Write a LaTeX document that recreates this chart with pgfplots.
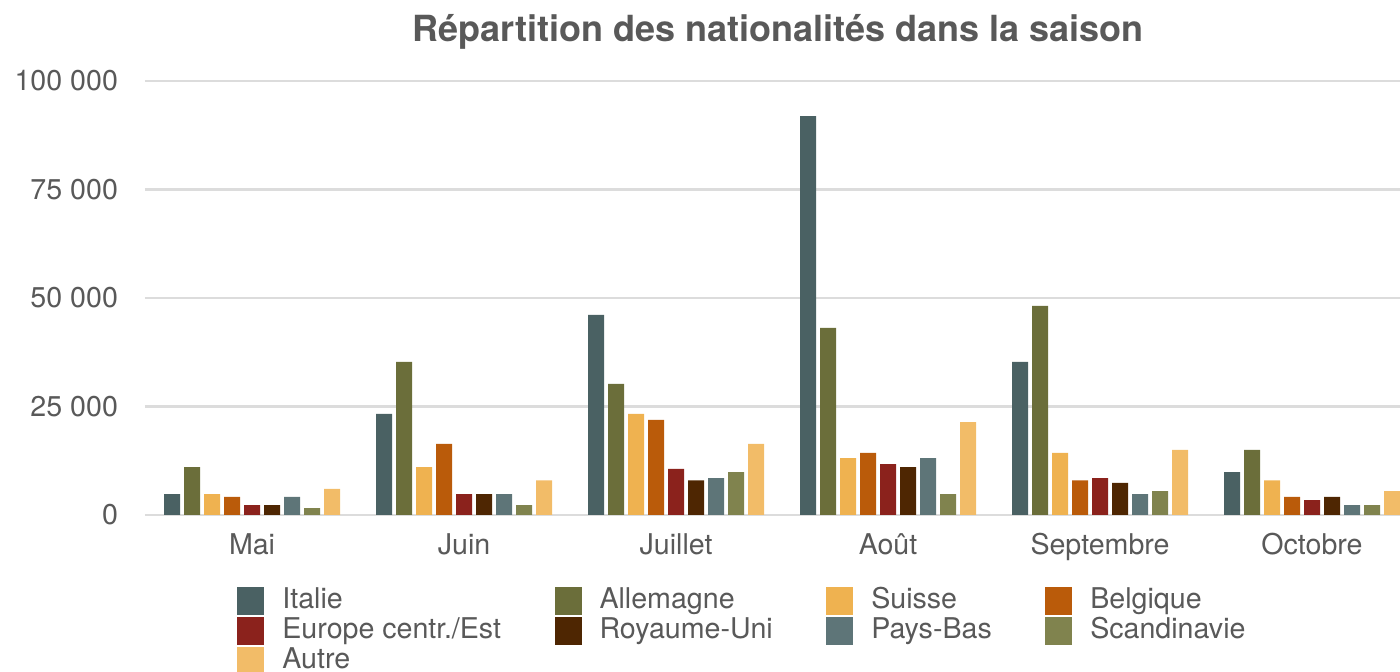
\documentclass[border=0pt]{standalone}
\usepackage{fontspec}
\setmainfont{TeX Gyre Heros}
\usepackage{pgfplots}
\usepackage{pgfplotstable}
\pgfplotsset{compat=1.18}

\definecolor{cItalie}{HTML}{4A6163}
\definecolor{cAllemagne}{HTML}{6B6E3A}
\definecolor{cSuisse}{HTML}{EFB250}
\definecolor{cBelgique}{HTML}{BA5B0A}
\definecolor{cEurope}{HTML}{8B221C}
\definecolor{cRU}{HTML}{4E2602}
\definecolor{cPB}{HTML}{5E7578}
\definecolor{cScand}{HTML}{80834E}
\definecolor{cAutre}{HTML}{F2BC68}
\definecolor{txt}{HTML}{595959}
\definecolor{grille}{HTML}{DCDCDC}

% mois: 0=Mai ... 5=Octobre
\pgfplotstableread{
x Italie Allemagne Suisse Belgique Europe RoyaumeUni PaysBas Scandinavie Autre
0 4800  11000 4800  4200  2300  2300  4200  1600 6000
1 23300 35300 11000 16400 4800  4800  4800  2300 8000
2 46100 30200 23300 21900 10600 8000  8500  9900 16400
3 91900 43100 13100 14300 11700 11000 13100 4800 21400
4 35300 48200 14300 8000  8500  7400  4800  5500 15000
5 9900  15000 8000  4200  3400  4200  2300  2300 5500
}\donnees

\begin{document}
\begin{tikzpicture}
\begin{axis}[
    name=ax,
    scale only axis,
    width=627.5pt, height=217pt,
    ybar=2pt, bar width=8pt,
    xmin=-0.505, xmax=5.415,
    ymin=0, ymax=100000,
    xtick={0,1,2,3,4,5},
    xticklabels={Mai,Juin,Juillet,Août,Septembre,Octobre},
    ytick={0,25000,50000,75000,100000},
    yticklabels={0,25 000,50 000,75 000,100 000},
    scaled y ticks=false,
    ymajorgrids,
    grid style={draw=grille, line width=1.3pt},
    axis line style={draw=none},
    major tick length=0pt,
    /pgf/number format/assume math mode=true,
    tick label style={font=\fontsize{14.3}{16}\selectfont, text=txt},
    xticklabel style={anchor=base, yshift=-20pt},
    yticklabel style={anchor=east, xshift=-10pt},
    title={Répartition des nationalités dans la saison},
    title style={font=\fontsize{18}{21}\selectfont\bfseries, text=txt,
        at={(0.5,1)}, anchor=base, yshift=13.5pt, xshift=2.75pt},
    legend columns=4,
    legend cell align=left,
    legend style={at={(0.0733,-0.1659)}, anchor=north west, draw=none,
        inner sep=0pt, font=\fontsize{14.3}{16}\selectfont, text=txt,
        column sep=9pt, row sep=1pt,
        nodes={inner sep=0pt, text height=10.5pt, text depth=3.5pt},
        /tikz/every even column/.append style={column sep=26.75pt}},
    legend image code/.code={\fill[#1] (0pt,-7pt) rectangle (13.5pt,7pt);},
]
\addplot[fill=cItalie, draw=none] table[x=x, y=Italie] {\donnees};
\addlegendentry{Italie}
\addplot[fill=cAllemagne, draw=none] table[x=x, y=Allemagne] {\donnees};
\addlegendentry{Allemagne}
\addplot[fill=cSuisse, draw=none] table[x=x, y=Suisse] {\donnees};
\addlegendentry{Suisse}
\addplot[fill=cBelgique, draw=none] table[x=x, y=Belgique] {\donnees};
\addlegendentry{Belgique}
\addplot[fill=cEurope, draw=none] table[x=x, y=Europe] {\donnees};
\addlegendentry{Europe centr./Est}
\addplot[fill=cRU, draw=none] table[x=x, y=RoyaumeUni] {\donnees};
\addlegendentry{Royaume-Uni}
\addplot[fill=cPB, draw=none] table[x=x, y=PaysBas] {\donnees};
\addlegendentry{Pays-Bas}
\addplot[fill=cScand, draw=none] table[x=x, y=Scandinavie] {\donnees};
\addlegendentry{Scandinavie}
\addplot[fill=cAutre, draw=none] table[x=x, y=Autre] {\donnees};
\addlegendentry{Autre}
\end{axis}
\pgfresetboundingbox
\path ([xshift=-72.5pt,yshift=-78.5pt]ax.south west) rectangle ([yshift=40.5pt]ax.north east);
\end{tikzpicture}
\end{document}
